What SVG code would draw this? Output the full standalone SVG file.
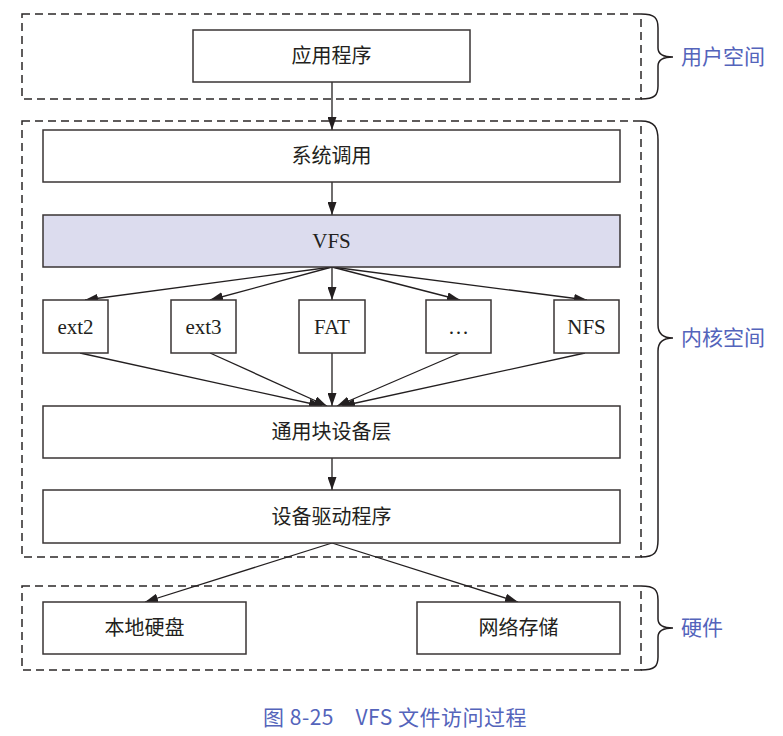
<svg xmlns="http://www.w3.org/2000/svg" width="783" height="736" viewBox="0 0 783 736">
<style>
.grp{fill:none;stroke:#2b2727;stroke-width:1.5;stroke-dasharray:8 5}
.box{fill:#fff;stroke:#3a3535;stroke-width:1.5}
.vfs{fill:#dcdcee;stroke:#3a3535;stroke-width:1.5}
.cn{font-family:"Liberation Serif","Noto Sans CJK SC",serif;font-size:20px;fill:#231f20;text-anchor:middle}
.lat{font-family:"Liberation Serif",serif;font-size:21px;fill:#231f20;text-anchor:middle}
.side{font-family:"Noto Sans CJK SC",sans-serif;font-size:21px;fill:#5464bb}
.cap{font-family:"Noto Sans CJK SC",sans-serif;font-size:21px;fill:#5464bb;text-anchor:middle;letter-spacing:0.5px}
.brace{fill:none;stroke:#231f20;stroke-width:1.5}
.edge{fill:none;stroke:#231f20;stroke-width:1.3;marker-end:url(#ah)}
</style>
<defs>
<marker id="ah" markerUnits="userSpaceOnUse" markerWidth="13" markerHeight="9" refX="13" refY="4.5" orient="auto">
<path d="M0,0 L13,4.5 L0,9 z" fill="#231f20"/>
</marker>
</defs>

<g id="groups">
<rect class="grp" x="22" y="14" width="619" height="85"/>
<rect class="grp" x="22" y="121" width="619" height="436"/>
<rect class="grp" x="22" y="586" width="619" height="84"/>
<path class="brace" d="M641,14 C655,14 658,18 658,28 L658,48 C658,54 662,57 673,57 C662,57 658,60 658,66 L658,86 C658,95 655,99 641,99"/>
<path class="brace" d="M641,121 C655,121 658,128 658,140 L658,325 C658,333 662,338 673,338 C662,338 658,343 658,351 L658,540 C658,552 655,557 641,557"/>
<path class="brace" d="M641,586 C655,586 658,590 658,600 L658,619 C658,625 662,628 673,628 C662,628 658,631 658,637 L658,657 C658,666 655,670 641,670"/>
<text class="side" x="681" y="64">用户空间</text>
<text class="side" x="681" y="345">内核空间</text>
<text class="side" x="681" y="635">硬件</text>
</g>

<g id="edges">
<line class="edge" x1="332" y1="82" x2="332" y2="130"/>
<line class="edge" x1="332" y1="182" x2="332" y2="215"/>
<line class="edge" x1="332" y1="267" x2="85" y2="300"/>
<line class="edge" x1="332" y1="267" x2="210" y2="300"/>
<line class="edge" x1="332" y1="267" x2="332" y2="300"/>
<line class="edge" x1="332" y1="267" x2="460" y2="300"/>
<line class="edge" x1="332" y1="267" x2="587" y2="300"/>
<line class="edge" x1="80" y1="353" x2="322" y2="406"/>
<line class="edge" x1="210" y1="353" x2="327" y2="406"/>
<line class="edge" x1="332" y1="353" x2="332" y2="406"/>
<line class="edge" x1="460" y1="353" x2="337" y2="406"/>
<line class="edge" x1="585" y1="353" x2="342" y2="406"/>
<line class="edge" x1="332" y1="458" x2="332" y2="490"/>
<line class="edge" x1="332" y1="543" x2="145" y2="602"/>
<line class="edge" x1="332" y1="543" x2="518" y2="602"/>
</g>

<g id="app"><rect class="box" x="193" y="30" width="277" height="52"/><text class="cn" x="331.5" y="63">应用程序</text></g>
<g id="syscall"><rect class="box" x="43" y="130" width="577" height="52"/><text class="cn" x="331.5" y="163">系统调用</text></g>
<g id="vfs"><rect class="vfs" x="43" y="215" width="577" height="52"/><text class="lat" x="331.5" y="248">VFS</text></g>
<g id="ext2"><rect class="box" x="43" y="300" width="65" height="53"/><text class="lat" x="75.5" y="334">ext2</text></g>
<g id="ext3"><rect class="box" x="171" y="300" width="65" height="53"/><text class="lat" x="203.5" y="334">ext3</text></g>
<g id="fat"><rect class="box" x="299" y="300" width="66" height="53"/><text class="lat" x="332" y="334">FAT</text></g>
<g id="more"><rect class="box" x="426" y="300" width="65" height="53"/><text class="lat" x="458.5" y="334">…</text></g>
<g id="nfs"><rect class="box" x="554" y="300" width="65" height="53"/><text class="lat" x="586.5" y="334">NFS</text></g>
<g id="block"><rect class="box" x="43" y="406" width="577" height="52"/><text class="cn" x="331.5" y="439">通用块设备层</text></g>
<g id="driver"><rect class="box" x="43" y="490" width="577" height="53"/><text class="cn" x="331.5" y="524">设备驱动程序</text></g>
<g id="disk"><rect class="box" x="43" y="602" width="203" height="52"/><text class="cn" x="144.5" y="635">本地硬盘</text></g>
<g id="netstore"><rect class="box" x="417" y="602" width="203" height="52"/><text class="cn" x="518.5" y="635">网络存储</text></g>

<text class="cap" x="395" y="725">图 8-25　VFS 文件访问过程</text>
</svg>
